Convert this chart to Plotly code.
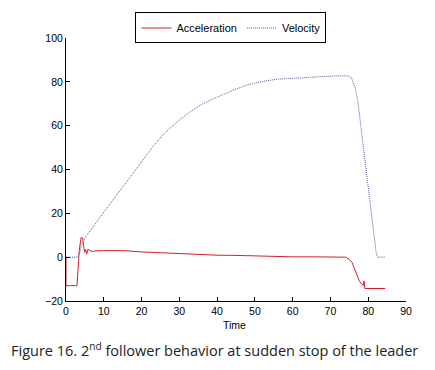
import plotly.graph_objects as go

# ---- data ----
time_acc = [0, 0, 2.9, 3.2, 3.5, 4.0, 4.4, 4.7, 4.9, 5.2, 5.5, 5.8, 6.3, 7.0, 8, 10, 15, 20, 25, 30,
            35, 40, 45, 50, 55, 60, 65, 70, 73, 74, 75, 75.7, 76.3, 77, 77.7, 78.3, 78.7, 78.9,
            79.1, 81, 84.5]
acceleration = [0, -13, -13, -5, 3, 9, 8.8, 5, 2.2, 3.5, 1.5, 3.6, 3.0, 2.6, 2.9, 3.0, 3.0, 2.4,
                2.0, 1.6, 1.2, 0.9, 0.8, 0.5, 0.3, 0.15, 0.15, 0.15, 0.1, 0, -1, -2.4, -5, -8.5,
                -11, -12.3, -12.8, -10.8, -14.3, -14.3, -14.3]

time_vel = [0, 3.2, 3.6, 4.2, 5.1, 7, 10, 13, 16, 20, 23, 26, 30, 33, 36, 40, 44, 48, 52, 56,
            60, 64, 68, 72, 74.8, 75.5, 76, 76.5, 77.2, 82.1, 82.5, 84.5]
velocity = [0, 0, 2, 5.9, 9, 13.5, 20.5, 27.5, 34.2, 43.2, 50.5, 56.5, 62.6, 66.5, 69.8, 73, 76,
            78.6, 80.2, 81.2, 81.7, 82.1, 82.4, 82.7, 82.7, 82, 80, 77.5, 72, 2, 0, 0]

x_ticks = [0, 10, 20, 30, 40, 50, 60, 70, 80, 90]
y_ticks = [-20, 0, 20, 40, 60, 80, 100]

fig = go.Figure()
fig.add_trace(go.Scatter(x=time_acc, y=acceleration, mode="lines", name="Acceleration",
                         line=dict(color="#d0202a", width=1)))
fig.add_trace(go.Scatter(x=time_vel, y=velocity, mode="lines", name="Velocity",
                         line=dict(color="#5060a0", width=1, dash="1px,1px")))

axis_font = dict(family="Liberation Sans, Arial, sans-serif", size=10.5, color="#000")
fig.update_layout(
    width=435, height=370,
    margin=dict(l=58, r=37, t=30, b=77, autoexpand=False),
    paper_bgcolor="white", plot_bgcolor="white",
    font=axis_font,
    showlegend=True,
    legend=dict(orientation="h", x=0.485, xanchor="center", y=1.097, yanchor="top",
                bordercolor="#000", borderwidth=1, bgcolor="white",
                font=dict(family="Liberation Sans, Arial, sans-serif", size=11),
                itemwidth=30, tracegroupgap=0),
    xaxis=dict(range=[0, 90], tickvals=x_ticks, ticks="inside", ticklen=4, tickcolor="#000",
               showline=True, linecolor="#000", linewidth=1, showgrid=False, zeroline=False,
               mirror=False, automargin=False),
    yaxis=dict(range=[-20, 100], tickvals=y_ticks, ticks="inside", ticklen=4, tickcolor="#000",
               showline=True, linecolor="#000", linewidth=1, showgrid=False, zeroline=False,
               mirror=False, automargin=False),
    annotations=[
        dict(text="Time", xref="paper", yref="paper", x=0.497, y=-0.091, xanchor="center",
             yanchor="middle", showarrow=False,
             font=dict(family="Liberation Sans, Arial, sans-serif", size=10.5, color="#000")),
        dict(text="Figure 16. 2<sup>nd</sup> follower behavior at sudden stop of the leader",
             xref="paper", yref="paper", x=0.437, y=-0.186, xanchor="center",
             yanchor="middle", showarrow=False,
             font=dict(family="Open Sans, Noto Sans, sans-serif", size=14.5, color="#222")),
    ],
)

fig.write_html("out.html")
